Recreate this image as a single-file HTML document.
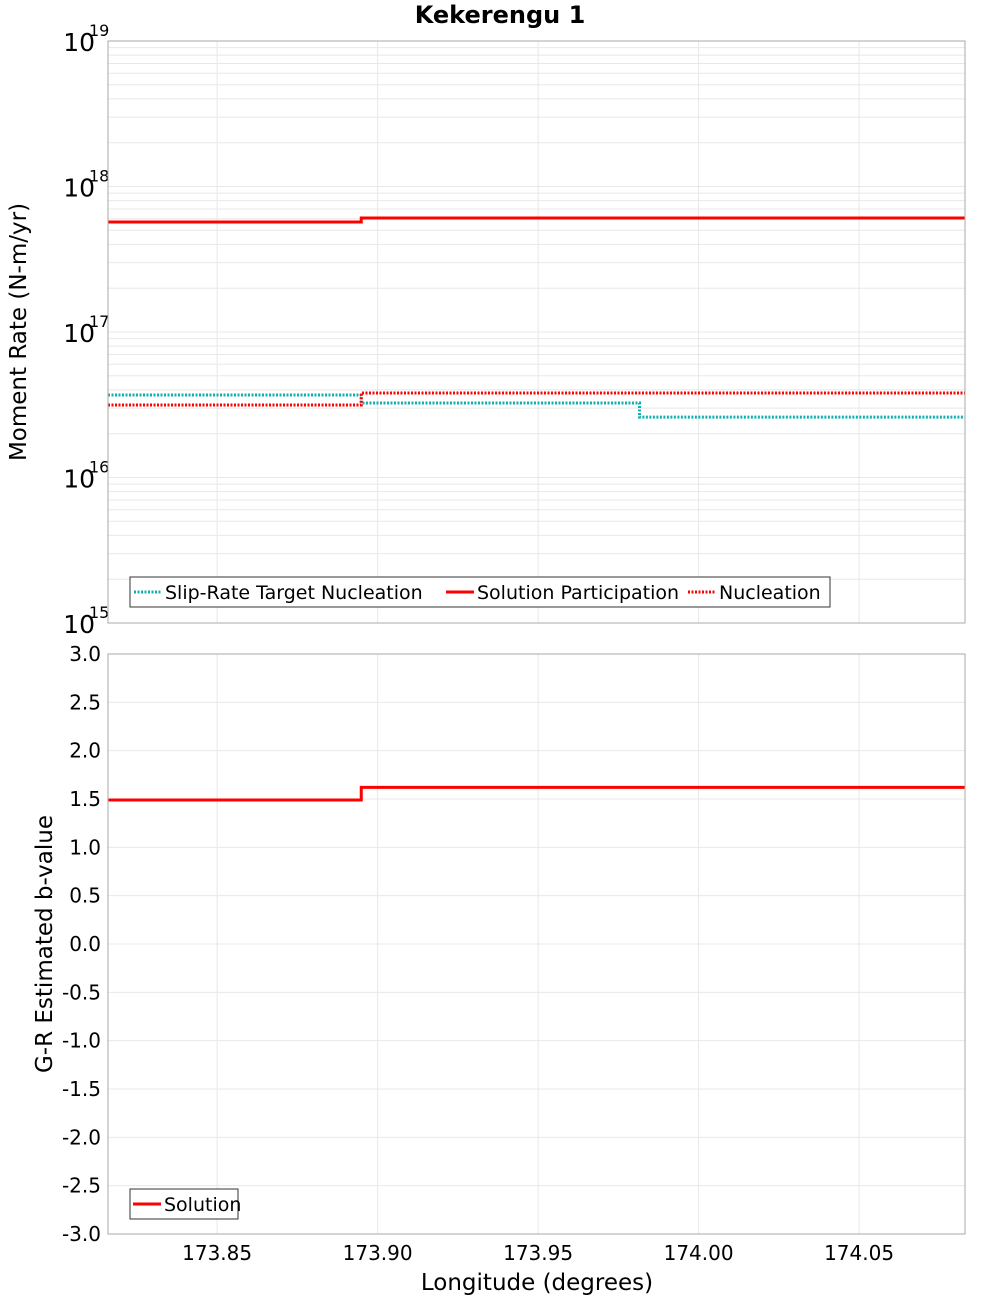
<!DOCTYPE html>
<html><head><meta charset="utf-8"><style>
body{margin:0;background:#fff;font-family:"Liberation Sans","DejaVu Sans",sans-serif}
</style></head><body>
<svg id="c" width="1000" height="1300" xmlns="http://www.w3.org/2000/svg" font-family="DejaVu Sans, Liberation Sans, sans-serif">
<text x="500" y="23" text-anchor="middle" font-size="24" font-weight="bold">Kekerengu 1</text>
<g id="top"></g>
<g id="bot"></g>
<text transform="translate(26,332) rotate(-90)" text-anchor="middle" font-size="23">Moment Rate (N-m/yr)</text>
<text transform="translate(52,944) rotate(-90)" text-anchor="middle" font-size="23">G-R Estimated b-value</text>
<text x="537" y="1290" text-anchor="middle" font-size="23">Longitude (degrees)</text>
</svg>
<script>
const segStarts=[173.816,173.8949,173.9816];
const segEnds=[173.8949,173.9816,174.083];
const solutionParticipation=[5.7e17,6.08e17,6.08e17];
const slipRateTarget=[3.69e16,3.25e16,2.6e16];
const nucleation=[3.15e16,3.81e16,3.81e16];
const bValues=[1.49,1.62,1.62];
const xTicks=[173.85,173.90,173.95,174.00,174.05];
const logTicks=[15,16,17,18,19];
const bTicks=[-3,-2.5,-2,-1.5,-1,-0.5,0,0.5,1,1.5,2,2.5,3];
const NS="http://www.w3.org/2000/svg";
const L=108,R=965,xmin=173.816,xmax=174.083;
const X=v=>L+(v-xmin)/(xmax-xmin)*(R-L);
const T0=41,T1=623,B0=654,B1=1234;
const YL=v=>T1-(Math.log10(v)-15)/4*(T1-T0);
const YB=v=>B1-(v+3)/6*(B1-B0);
function mk(t,a,p){const e=document.createElementNS(NS,t);for(const k in a)e.setAttribute(k,a[k]);p.appendChild(e);return e;}
const gTop=document.getElementById('top'),gBot=document.getElementById('bot');
for(const [g,y0,y1] of [[gTop,T0,T1],[gBot,B0,B1]]){
  mk('rect',{x:L,y:y0,width:R-L,height:y1-y0,fill:'#fff',stroke:'none'},g);
  xTicks.forEach(v=>{const l=mk('line',{x1:X(v),x2:X(v),y1:y0,y2:y1,stroke:'#e8e8e8'},g);
  
  });
}
for(let d=15;d<19;d++)for(let m=1;m<10;m++){const y=YL(m*Math.pow(10,d));
  const l=mk('line',{x1:L,x2:R,y1:y,y2:y,stroke:'#e8e8e8'},gTop);
  
  }
bTicks.forEach(v=>{const l=mk('line',{x1:L,x2:R,y1:YB(v),y2:YB(v),stroke:'#e8e8e8'},gBot);
  
  
  const t=mk('text',{x:101,y:YB(v)+7,'text-anchor':'end','font-size':20},gBot);t.textContent=v.toFixed(1);
  
  });
logTicks.forEach(d=>{const y=YL(Math.pow(10,d));
  const t=mk('text',{x:95,y:y+10,'text-anchor':'end','font-size':25},gTop);t.textContent='10';
  
  
  const s=mk('text',{x:89,y:y-5,'font-size':16},gTop);s.textContent=String(d);
  
  });
xTicks.forEach(v=>{const t=mk('text',{x:X(v),y:1260,'text-anchor':'middle','font-size':20},gBot);t.textContent=v.toFixed(2);
  
  });
function series(g,vals,Y,color,dash,name){
  let d='';vals.forEach((v,i)=>{d+=(i?'L':'M')+X(segStarts[i])+' '+Y(v)+' L'+X(segEnds[i])+' '+Y(v)+' ';});
  const a={d:d,fill:'none',stroke:color,'stroke-width':3};if(dash)a['stroke-dasharray']='2 1.5';
  const p=mk('path',a,g);
  
  
}
series(gTop,slipRateTarget,YL,'#10b0b0',true,'slip-rate-target-line');
series(gTop,nucleation,YL,'#ff0000',true,'nucleation-line');
series(gTop,solutionParticipation,YL,'#ff0000',false,'solution-participation-line');
series(gBot,bValues,YB,'#ff0000',false,'solution-bvalue-line');
for(const [y0,y1] of [[T0,T1],[B0,B1]])mk('rect',{x:L,y:y0,width:R-L,height:y1-y0,fill:'none',stroke:'#aaa'},gBot);
function legend(g,x,y,w,items){
  const r=mk('rect',{x:x,y:y,width:w,height:30,fill:'#fff',stroke:'#333'},g);
  
  
  items.forEach(([label,color,dash,sx])=>{
    const a={x1:sx,x2:sx+28,y1:y+15,y2:y+15,stroke:color,'stroke-width':3};if(dash)a['stroke-dasharray']='2 1.5';
    const l=mk('line',a,g);
    
    
    const t=mk('text',{x:sx+31,y:y+22,'font-size':19},g);t.textContent=label;
    
    });
}
legend(gTop,130,577,700,[['Slip-Rate Target Nucleation','#10b0b0',true,134],['Solution Participation','#ff0000',false,446],['Nucleation','#ff0000',true,688]]);
legend(gBot,130,1189,108,[['Solution','#ff0000',false,133]]);
</script>
</body></html>
